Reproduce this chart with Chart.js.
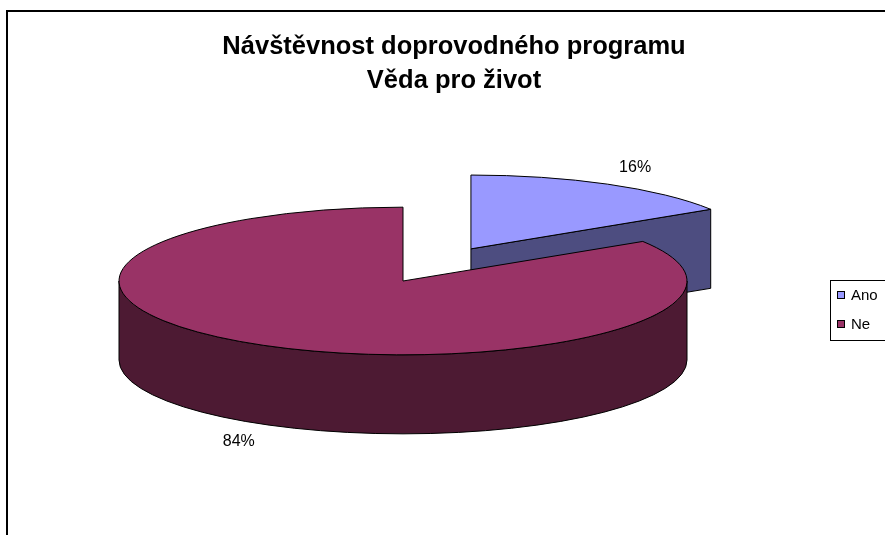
<!DOCTYPE html>
<html>
<head>
<meta charset="utf-8">
<title>Návštěvnost doprovodného programu</title>
<script src="https://cdn.jsdelivr.net/npm/chart.js@4.4.1/dist/chart.umd.min.js"></script>
<style>
    html, body { margin: 0; padding: 0; background: #fff; overflow: hidden; }
    #wrap { width: 885px; height: 535px; }
</style>
</head>
<body>
<div id="wrap"><canvas id="chart" width="885" height="535"></canvas></div>
<script>
// Chart data
const labels = ['Ano', 'Ne'];
const shares = [16, 84];
const titleLines = ['Návštěvnost doprovodného programu', 'Věda pro život'];

const FONT = "Arial, 'Liberation Sans', sans-serif";

// Geometry of every slice as laid out by Chart.js, moved by its offset
function sliceGeometry(chart) {
    const tilt = chart.options.plugins.pie3d.tilt;
    const ds = chart.data.datasets[0];
    const meta = chart.getDatasetMeta(0);
    return meta.data.map((arc, i) => {
        const p = arc.getProps(['x', 'y', 'startAngle', 'endAngle', 'outerRadius'], true);
        const mid = (p.startAngle + p.endAngle) / 2;
        const off = arc.options.offset || 0;
        return {
            index: i,
            r: p.outerRadius,
            a0: p.startAngle,
            a1: p.endAngle,
            mid: mid,
            cx: p.x + Math.cos(mid) * off,
            cy: p.y + Math.sin(mid) * off * tilt,
            top: arc.options.backgroundColor,
            side: ds.sideColor[i]
        };
    });
}

function drawSlice(ctx, s, tilt, depth) {
    const ry = s.r * tilt;
    const rim = a => [s.cx + s.r * Math.cos(a), s.cy + ry * Math.sin(a)];

    ctx.fillStyle = s.side;
    // flat cut faces, only those turned to the viewer
    [[s.a0, s.a0 - Math.PI / 2], [s.a1, s.a1 + Math.PI / 2]].forEach(([a, n]) => {
        if (Math.sin(n) < 0.01) return;
        const [x, y] = rim(a);
        ctx.beginPath();
        ctx.moveTo(s.cx, s.cy);
        ctx.lineTo(x, y);
        ctx.lineTo(x, y + depth);
        ctx.lineTo(s.cx, s.cy + depth);
        ctx.closePath();
        ctx.fill();
        ctx.stroke();
    });

    // outer wall, front half only
    for (let k = -1; k <= 1; k++) {
        const lo = Math.max(s.a0, 2 * Math.PI * k);
        const hi = Math.min(s.a1, Math.PI + 2 * Math.PI * k);
        if (hi <= lo) continue;
        ctx.beginPath();
        ctx.ellipse(s.cx, s.cy, s.r, ry, 0, lo, hi);
        ctx.ellipse(s.cx, s.cy + depth, s.r, ry, 0, hi, lo, true);
        ctx.closePath();
        ctx.fill();
        ctx.stroke();
    }

    // top face
    ctx.fillStyle = s.top;
    ctx.beginPath();
    ctx.moveTo(s.cx, s.cy);
    ctx.ellipse(s.cx, s.cy, s.r, ry, 0, s.a0, s.a1);
    ctx.closePath();
    ctx.fill();
    ctx.stroke();
}

const frame = {
    id: 'frame',
    beforeDraw(chart, args, o) {
        const ctx = chart.ctx;
        ctx.save();
        ctx.strokeStyle = o.color;
        ctx.lineWidth = o.width;
        ctx.strokeRect(o.left, o.top, chart.width, chart.height);
        ctx.restore();
    }
};

// Draws the pie as an Excel-like 3D pie instead of the flat arcs
const pie3d = {
    id: 'pie3d',
    beforeDatasetsDraw(chart, args, o) {
        const ctx = chart.ctx;
        const slices = sliceGeometry(chart).sort((a, b) => a.cy - b.cy);
        ctx.save();
        ctx.strokeStyle = o.lineColor;
        ctx.lineWidth = 1;
        ctx.lineJoin = 'round';
        slices.forEach(s => drawSlice(ctx, s, o.tilt, o.depth));
        ctx.restore();
        return false;
    }
};

const pctLabels = {
    id: 'pctLabels',
    afterDraw(chart, args, o) {
        const ctx = chart.ctx;
        const { tilt, depth } = chart.options.plugins.pie3d;
        const values = chart.data.datasets[0].data;
        const total = values.reduce((sum, v) => sum + v, 0);
        ctx.save();
        ctx.font = o.font;
        ctx.fillStyle = o.color;
        ctx.textAlign = 'center';
        ctx.textBaseline = 'middle';
        sliceGeometry(chart).forEach(s => {
            const sin = Math.sin(s.mid);
            const x = s.cx + Math.cos(s.mid) * s.r * o.distance;
            const y = s.cy + sin * (s.r * tilt * o.distance + o.pad) + (sin > 0 ? depth : 0);
            ctx.fillText(Math.round(values[s.index] / total * 100) + '%', x, y);
        });
        ctx.restore();
    }
};

const excelTitle = {
    id: 'excelTitle',
    afterDraw(chart, args, o) {
        const ctx = chart.ctx;
        ctx.save();
        ctx.font = o.font;
        ctx.fillStyle = o.color;
        ctx.textAlign = 'center';
        ctx.textBaseline = 'alphabetic';
        titleLines.forEach((line, i) => ctx.fillText(line, o.x, o.y + i * o.lineHeight));
        ctx.restore();
    }
};

const boxLegend = {
    id: 'boxLegend',
    afterDraw(chart, args, o) {
        const ctx = chart.ctx;
        const colors = chart.data.datasets[0].backgroundColor;
        ctx.save();
        ctx.fillStyle = '#fff';
        ctx.fillRect(o.left, o.top, o.width, o.height);
        ctx.strokeStyle = '#000';
        ctx.lineWidth = 1;
        ctx.strokeRect(o.left + 0.5, o.top + 0.5, o.width, o.height);
        ctx.font = o.font;
        ctx.textBaseline = 'middle';
        chart.data.labels.forEach((label, i) => {
            const y = o.top + o.rowHeight * (i + 0.5);
            ctx.fillStyle = colors[i];
            ctx.fillRect(o.left + 7, Math.round(y - 4), 8, 8);
            ctx.strokeRect(o.left + 7.5, Math.round(y - 4) + 0.5, 7, 7);
            ctx.fillStyle = '#000';
            ctx.fillText(label, o.left + 21, y + 1);
        });
        ctx.restore();
    }
};

new Chart(document.getElementById('chart'), {
    type: 'pie',
    data: {
        labels: labels,
        datasets: [{
            data: shares,
            backgroundColor: ['#9999FF', '#993366'],
            sideColor: ['#4D4D80', '#4D1A33'],
            borderColor: '#000',
            borderWidth: 1,
            offset: [141, 0],
            radius: 284
        }]
    },
    options: {
        responsive: false,
        animation: false,
        events: [],
        layout: {
            padding: { left: 0, right: 79, top: 27, bottom: 0 }
        },
        plugins: {
            legend: { display: false },
            title: { display: false },
            tooltip: { enabled: false },
            frame: { color: '#000', width: 2, left: 7, top: 11 },
            pie3d: { tilt: 0.26, depth: 79, lineColor: '#000' },
            pctLabels: { font: '16px ' + FONT, color: '#000', distance: 1.2, pad: 4 },
            excelTitle: { font: 'bold 25.5px ' + FONT, color: '#000', x: 454, y: 54, lineHeight: 34 },
            boxLegend: { font: '15px ' + FONT, left: 830, top: 280, width: 80, height: 60, rowHeight: 29 }
        }
    },
    plugins: [frame, pie3d, pctLabels, excelTitle, boxLegend]
});
</script>
</body>
</html>
